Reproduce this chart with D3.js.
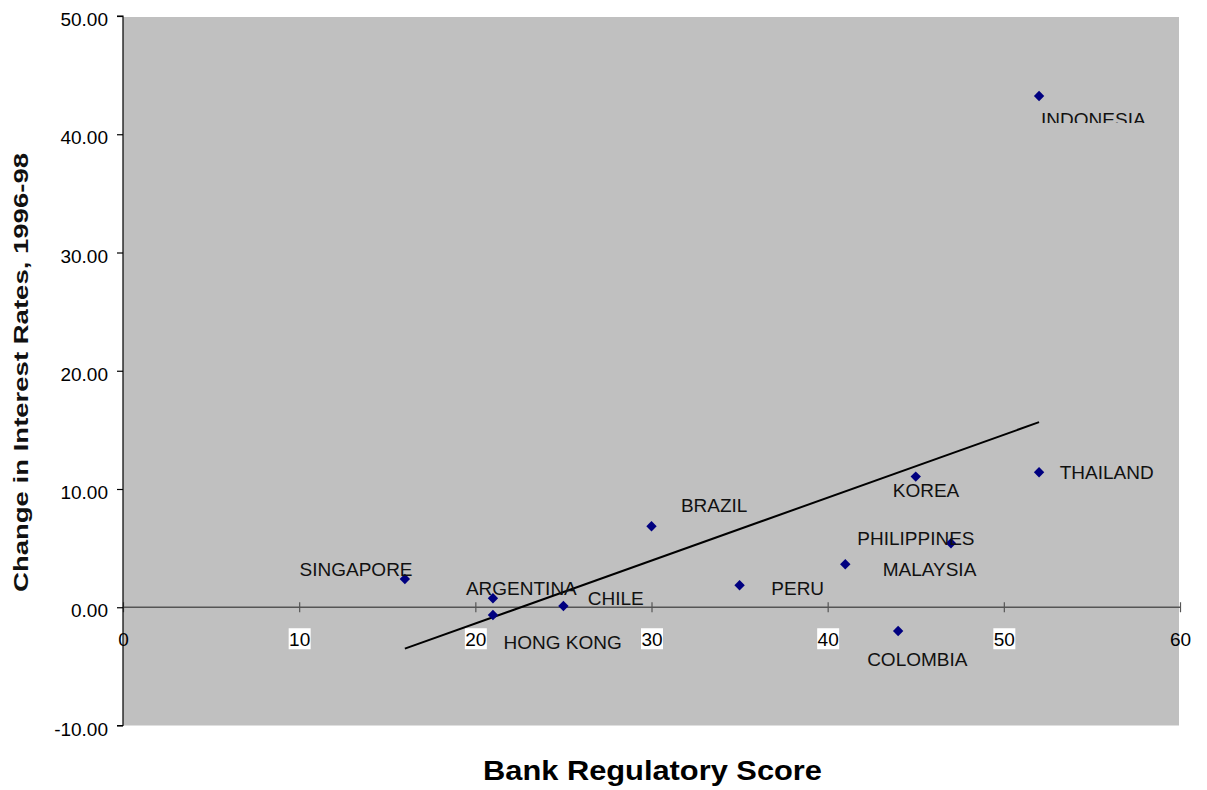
<!DOCTYPE html>
<html>
<head>
<meta charset="utf-8">
<script src="https://cdn.jsdelivr.net/npm/d3@7"></script>
<style>
  html, body { margin: 0; padding: 0; background: #fff; }
  svg { display: block; font-family: "Liberation Sans", Arial, sans-serif; }
</style>
</head>
<body>
<svg id="chart" width="1207" height="790"></svg>
<script>
// Bank regulatory score vs. change in interest rates, 1996-98
const countries = ["INDONESIA", "THAILAND", "KOREA", "PHILIPPINES", "MALAYSIA", "PERU",
                   "BRAZIL", "CHILE", "ARGENTINA", "HONG KONG", "SINGAPORE", "COLOMBIA"];
const regulatoryScore = [52, 52, 45, 47, 41, 35, 30, 25, 21, 21, 16, 44];
const rateChange = [43.24, 11.42, 11.05, 5.41, 3.64, 1.86, 6.85, 0.11, 0.76, -0.65, 2.39, -2.01];

const xTicks = [0, 10, 20, 30, 40, 50, 60];
const yTicks = [-10, 0, 10, 20, 30, 40, 50];

// label placement relative to each marker (pixels), text-anchor start
const labelOffset = {
  "INDONESIA":   [2, 30],
  "THAILAND":    [20.6, 7],
  "KOREA":       [-23, 20],
  "PHILIPPINES": [-93.7, 1.7],
  "MALAYSIA":    [37.4, 11.4],
  "PERU":        [31.7, 10],
  "BRAZIL":      [29.4, -14],
  "CHILE":       [24.4, -0.7],
  "ARGENTINA":   [-27, -3.6],
  "HONG KONG":   [10.6, 34.3],
  "SINGAPORE":   [-105.3, -3],
  "COLOMBIA":    [-31, 35]
};

const svg = d3.select("#chart");
const plotLeft = 123, plotRight = 1180, plotTop = 16, plotBottom = 725.5;

const x = d3.scaleLinear().domain([0, 60]).range([plotLeft, plotRight]);
const y = d3.scaleLinear().domain([-10, 50]).range([plotBottom, plotTop]);

// plot area
svg.append("rect")
  .attr("x", plotLeft).attr("y", plotTop + 1)
  .attr("width", plotRight - 1 - plotLeft).attr("height", plotBottom - 1 - plotTop)
  .attr("fill", "#c0c0c0");

// y axis (left), labels with a plain hyphen for negatives
const yAxis = d3.axisLeft(y).tickValues(yTicks).tickSize(6).tickPadding(9)
  .tickFormat(d => d.toFixed(2));
const gy = svg.append("g").attr("transform", `translate(${plotLeft},0)`).call(yAxis);
gy.select(".domain").attr("stroke", "#000").attr("stroke-width", 1.2)
  .attr("d", `M-6,${plotTop}H0V${plotBottom}H-6`);
gy.selectAll(".tick line").attr("stroke", "#000").attr("stroke-width", 1.2);
gy.selectAll(".tick text")
  .attr("font-size", 19).attr("fill", "#000")
  .attr("font-family", "'Liberation Sans', Arial, sans-serif")
  .attr("dy", null).attr("y", 9.5).attr("x", -15);

// x axis through y = 0
const y0 = y(0);
const xAxis = d3.axisBottom(x).tickValues(xTicks).tickSize(0).tickFormat(d => String(d));
const gx = svg.append("g").attr("transform", `translate(0,${y0})`).call(xAxis);
gx.select(".domain").attr("stroke", "#555").attr("stroke-width", 1.5)
  .attr("d", `M${plotLeft},0H${plotRight}`);
gx.selectAll(".tick line").remove();
gx.selectAll(".tick").append("line")
  .attr("y1", -5).attr("y2", 5).attr("stroke", "#555").attr("stroke-width", 1.2);
gx.selectAll(".tick").filter(d => d > 0 && d < 60)
  .insert("rect", "text")
  .attr("x", -11).attr("y", 21).attr("width", 22).attr("height", 21)
  .attr("fill", "#fff");
gx.selectAll(".tick text")
  .attr("font-size", 19).attr("fill", "#000")
  .attr("font-family", "'Liberation Sans', Arial, sans-serif")
  .attr("dy", null).attr("y", 39);
gx.raise();
gy.raise();

// least-squares trend line over the observed score range
const mx = d3.mean(regulatoryScore), my = d3.mean(rateChange);
let sxy = 0, sxx = 0;
regulatoryScore.forEach((v, i) => { sxy += (v - mx) * (rateChange[i] - my); sxx += (v - mx) ** 2; });
const slope = sxy / sxx, intercept = my - slope * mx;
const xExt = d3.extent(regulatoryScore);
svg.append("path")
  .datum(xExt.map(v => [v, intercept + slope * v]))
  .attr("d", d3.line().x(d => x(d[0])).y(d => y(d[1])))
  .attr("fill", "none").attr("stroke", "#000").attr("stroke-width", 2);

// markers
const points = countries.map((c, i) => ({ name: c, sx: regulatoryScore[i], sy: rateChange[i] }));
svg.append("g").selectAll("path")
  .data(points).join("path")
  .attr("transform", d => `translate(${x(d.sx)},${y(d.sy)})`)
  .attr("d", "M0,-5.2L5.2,0L0,5.2L-5.2,0Z")
  .attr("fill", "#000080");

// clip for the top-right label, which is cut off below its cap line
svg.append("defs").append("clipPath").attr("id", "labelClip")
  .append("rect").attr("x", 0).attr("y", 0).attr("width", 1207).attr("height", 123);

svg.append("g").selectAll("text")
  .data(points).join("text")
  .attr("x", d => x(d.sx) + labelOffset[d.name][0])
  .attr("y", d => y(d.sy) + labelOffset[d.name][1])
  .attr("font-size", 19).attr("fill", "#111")
  .attr("clip-path", d => d.name === "INDONESIA" ? "url(#labelClip)" : null)
  .text(d => d.name);

// axis titles
svg.append("text")
  .attr("x", 652.5).attr("y", 780)
  .attr("text-anchor", "middle")
  .attr("font-size", 28).attr("font-weight", "bold").attr("fill", "#000")
  .attr("textLength", 339).attr("lengthAdjust", "spacingAndGlyphs")
  .text("Bank Regulatory Score");

svg.append("text")
  .attr("transform", "translate(28,372.5) rotate(-90)")
  .attr("text-anchor", "middle")
  .attr("font-size", 20).attr("font-weight", "bold").attr("fill", "#111")
  .attr("textLength", 439).attr("lengthAdjust", "spacingAndGlyphs")
  .text("Change in Interest Rates, 1996-98");
</script>
</body>
</html>
